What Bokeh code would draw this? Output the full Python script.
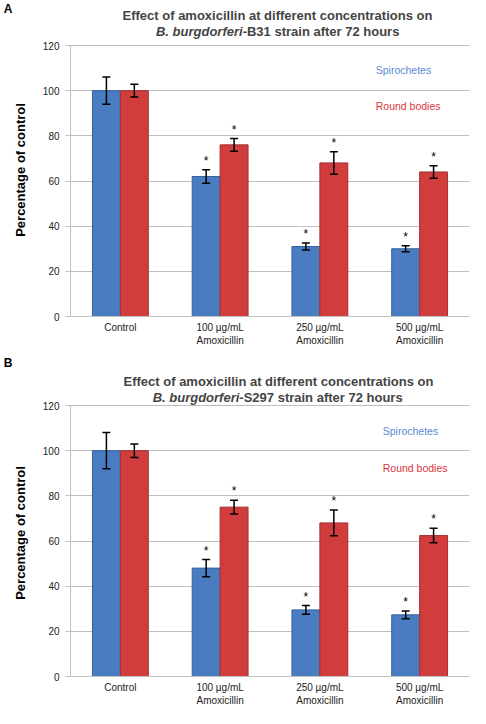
from bokeh.plotting import figure
from bokeh.models import ColumnDataSource, Whisker, TeeHead, Label, FactorRange, Range1d, FixedTicker
from bokeh.transform import dodge
from bokeh.layouts import column
from bokeh.embed import file_html
from bokeh.resources import INLINE
from bokeh.core.properties import value

# ---------------- data ----------------
categories = ["Control", "100 µg/mL\nAmoxicillin", "250 µg/mL\nAmoxicillin", "500 µg/mL\nAmoxicillin"]
significance = ["", "*", "*", "*"]
y_ticks = [0, 20, 40, 60, 80, 100, 120]
series_names = ["Spirochetes", "Round bodies"]

spirochetes_b31 = [100, 62, 31, 30]
spirochetes_b31_err = [6, 3, 1.5, 1.3]
round_bodies_b31 = [100, 76, 68, 64]
round_bodies_b31_err = [2.8, 2.8, 5, 2.8]

spirochetes_s297 = [100, 48, 29.5, 27.3]
spirochetes_s297_err = [8, 3.8, 1.9, 1.7]
round_bodies_s297 = [100, 75, 68, 62.4]
round_bodies_s297_err = [3, 3, 5.7, 3.2]

TITLE_1 = "Effect of amoxicillin at different concentrations on"
SPECIES = "B. burgdorferi"

# ---------------- style ----------------
FONT = "Liberation Sans"
BLUE, BLUE_EDGE = "#4A7CC2", "#35609E"
RED, RED_EDGE = "#D13D3D", "#A52E2E"
BLUE_TEXT, RED_TEXT = "#5A8AD0", "#D9353B"
GRID = "#BFBFBF"

W = 470
FRAME_L, FRAME_R, FRAME_H = 68, 1, 271
YMAX = 120
PX_PER_Y = FRAME_H / YMAX
PX_PER_X = (W - FRAME_L - FRAME_R) / len(categories)
BAR_W, OFF = 0.28, 0.14


def fx(px):
    """figure pixel x -> categorical data x"""
    return (px - FRAME_L) / PX_PER_X


def above(px):
    """pixels above the 120 line -> data y"""
    return YMAX + px / PX_PER_Y


def make_header(h, panel, panel_y, line1_y, center_px):
    hp = figure(width=W, height=h, x_range=Range1d(FRAME_L, W - FRAME_R),
                y_range=Range1d(0, h), output_backend="svg", toolbar_location=None,
                x_axis_location=None, y_axis_location="left",
                min_border_left=FRAME_L, min_border_right=FRAME_R,
                min_border_top=0, min_border_bottom=0)
    hp.grid.visible = False
    hp.outline_line_color = None
    # panel letter rendered as the single tick label of the header's left axis
    hp.yaxis.ticker = FixedTicker(ticks=[panel_y])
    hp.yaxis.major_label_overrides = {panel_y: panel}
    hp.yaxis.axis_line_color = None
    hp.yaxis.major_tick_line_color = None
    hp.yaxis.minor_tick_line_color = None
    hp.yaxis.major_tick_in = 0
    hp.yaxis.major_tick_out = 0
    hp.yaxis.major_label_standoff = FRAME_L - 10
    hp.yaxis.major_label_text_font = FONT
    hp.yaxis.major_label_text_font_size = "12px"
    hp.yaxis.major_label_text_font_style = "bold"
    hp.yaxis.major_label_text_color = "black"
    hp.add_layout(Label(x=center_px, y=line1_y, text=TITLE_1, text_font=FONT,
                        text_font_size="13px", text_font_style="bold",
                        text_align="center", text_baseline="middle"))
    return hp


def make_chart(strain, spiro, spiro_err, rnd, rnd_err, extra, bottom,
               line2_gap, split_px, legend_x, legend_y):
    p = figure(width=W, height=extra + FRAME_H + bottom,
               x_range=FactorRange(factors=categories),
               y_range=Range1d(0, above(extra)),
               output_backend="svg", toolbar_location=None,
               min_border_left=FRAME_L, min_border_right=FRAME_R,
               min_border_top=0, min_border_bottom=bottom)
    p.outline_line_color = None
    p.xgrid.grid_line_color = None
    p.ygrid.grid_line_color = GRID
    p.ygrid.ticker = FixedTicker(ticks=y_ticks)

    src = ColumnDataSource(dict(
        cat=categories,
        spiro=spiro, spiro_up=[v + e for v, e in zip(spiro, spiro_err)],
        spiro_lo=[v - e for v, e in zip(spiro, spiro_err)],
        rnd=rnd, rnd_up=[v + e for v, e in zip(rnd, rnd_err)],
        rnd_lo=[v - e for v, e in zip(rnd, rnd_err)],
        sig=significance,
    ))
    xb = dodge("cat", -OFF, range=p.x_range)
    xr = dodge("cat", OFF, range=p.x_range)
    p.vbar(x=xb, top="spiro", width=BAR_W, source=src, fill_color=BLUE,
           line_color=BLUE_EDGE, line_width=1)
    p.vbar(x=xr, top="rnd", width=BAR_W, source=src, fill_color=RED,
           line_color=RED_EDGE, line_width=1)

    for base, up, lo in ((xb, "spiro_up", "spiro_lo"), (xr, "rnd_up", "rnd_lo")):
        w = Whisker(base=base, upper=up, lower=lo, source=src, line_color="black",
                    line_width=1.5, level="annotation",
                    upper_head=TeeHead(size=8, line_width=1.5, line_color="black"),
                    lower_head=TeeHead(size=8, line_width=1.5, line_color="black"))
        p.add_layout(w)

    for base, up in ((xb, "spiro_up"), (xr, "rnd_up")):
        p.text(x=base, y=up, text="sig", source=src, text_align="center",
               text_baseline="bottom", y_offset=-2, text_font=value(FONT),
               text_font_size="12px", text_color="black")

    # axes
    p.yaxis.ticker = FixedTicker(ticks=y_ticks)
    p.yaxis.bounds = (0, YMAX)
    p.yaxis.axis_label = "Percentage of control"
    p.yaxis.axis_label_text_font = FONT
    p.yaxis.axis_label_text_font_size = "13px"
    p.yaxis.axis_label_text_font_style = "bold"
    p.yaxis.axis_label_text_color = "black"
    p.yaxis.axis_label_standoff = 12
    p.yaxis.major_label_text_font = FONT
    p.yaxis.major_label_text_font_size = "10px"
    p.yaxis.major_label_text_color = "#222222"
    p.yaxis.major_label_standoff = 6
    p.yaxis.axis_line_color = GRID
    p.yaxis.major_tick_line_color = GRID
    p.yaxis.major_tick_in = 0
    p.yaxis.major_tick_out = 5
    p.yaxis.minor_tick_line_color = None

    p.xaxis.axis_line_color = GRID
    p.xaxis.major_tick_line_color = None
    p.xaxis.major_tick_in = 0
    p.xaxis.major_tick_out = 0
    p.xaxis.major_label_standoff = 5
    p.xaxis.major_label_text_font = FONT
    p.xaxis.major_label_text_font_size = "10px"
    p.xaxis.major_label_text_color = "#222222"

    # second title line (italic species name + strain)
    p.add_layout(Label(x=fx(split_px), y=above(line2_gap), text=SPECIES,
                       text_font=FONT, text_font_size="13px", text_font_style="bold italic",
                       text_align="right", text_baseline="middle"))
    p.add_layout(Label(x=fx(split_px), y=above(line2_gap),
                       text="-" + strain + " strain after 72 hours",
                       text_font=FONT, text_font_size="13px", text_font_style="bold",
                       text_align="left", text_baseline="middle"))

    # text legend
    for name, yy, col in zip(series_names, legend_y, (BLUE_TEXT, RED_TEXT)):
        p.add_layout(Label(x=legend_x, y=yy, text=name, text_font=FONT,
                           text_font_size="10.5px", text_color=col,
                           text_align="left", text_baseline="middle"))
    return p


ha = make_header(23, "A", panel_y=17, line1_y=8.3, center_px=276)
pa = make_chart("B31", spirochetes_b31, spirochetes_b31_err,
                round_bodies_b31, round_bodies_b31_err,
                extra=22, bottom=34, line2_gap=14, split_px=241,
                legend_x=3.06, legend_y=(109.3, 93.2))
hb = make_header(39, "B", panel_y=27, line1_y=8, center_px=277)
pb = make_chart("S297", spirochetes_s297, spirochetes_s297_err,
                round_bodies_s297, round_bodies_s297_err,
                extra=16, bottom=32, line2_gap=8.5, split_px=237.7,
                legend_x=3.13, legend_y=(108.5, 92.3))

layout = column(ha, pa, hb, pb, spacing=0)
open("out.html", "w").write(file_html(layout, INLINE))
